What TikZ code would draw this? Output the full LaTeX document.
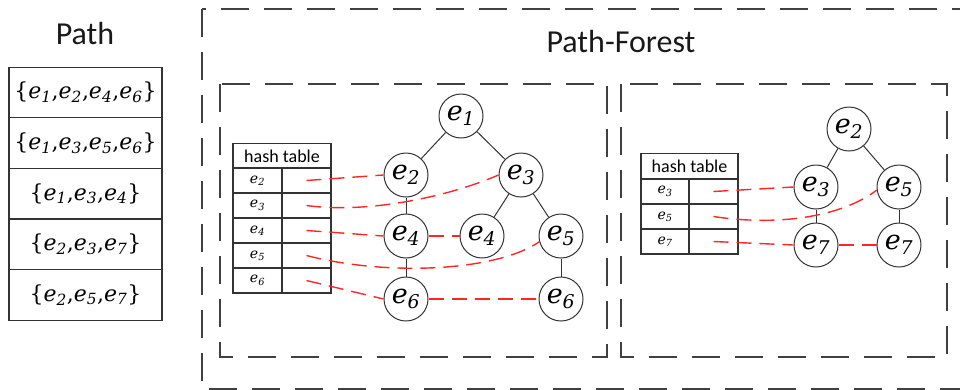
\RequirePackage{fix-cm}
\documentclass[tikz,border=0pt]{standalone}
\usepackage{fontspec}
\setmainfont{Carlito}
\newfontfamily\efont{DejaVu Serif}
% italic element name with a numeric index
\newcommand\ev[1]{{\efont\itshape e}\textsubscript{\efont\itshape #1}}
\newcommand\eset[1]{{\efont\{}#1{\efont\}}}
\newcommand\cm{{\efont,}}
\begin{document}
\begin{tikzpicture}[x=1pt,y=-1pt,
  frame/.style={draw=black!75, line width=1.8pt, dash pattern=on 28pt off 15pt},
  pathcell/.style={draw=black!80, line width=1.1pt, minimum width=153pt, minimum height=50.6pt,
    inner sep=0pt, font=\fontsize{22}{26}\selectfont},
  hashhead/.style={draw=black!80, line width=1.1pt, minimum height=24.5pt,
    inner sep=0pt, font=\fontsize{18}{20}\selectfont},
  hashcell/.style={draw=black!80, line width=1.1pt, minimum height=25pt,
    inner sep=0pt, font=\fontsize{14}{16}\selectfont},
  vertex/.style={circle, draw=black!80, line width=1pt, minimum size=44pt, inner sep=0pt,
    fill=white, font=\fontsize{27}{30}\selectfont},
  edge/.style={draw=black!80, line width=1pt},
  link/.style={draw=red!85, line width=1.4pt, dash pattern=on 15pt off 8pt},
  title/.style={font=\fontsize{32}{36}\selectfont, text=black!90}]
\useasboundingbox (0,0) rectangle (960,389);

% ---------- path list ----------
\node[title] (pathtitle) at (85,34) {Path};
\node[pathcell] (p1) at (85.5,92.5)  {\eset{\ev1\cm\ev2\cm\ev4\cm\ev6}};
\node[pathcell] (p2) at (85.5,143.1) {\eset{\ev1\cm\ev3\cm\ev5\cm\ev6}};
\node[pathcell] (p3) at (85.5,193.7) {\eset{\ev1\cm\ev3\cm\ev4}};
\node[pathcell] (p4) at (85.5,244.3) {\eset{\ev2\cm\ev3\cm\ev7}};
\node[pathcell] (p5) at (85.5,294.9) {\eset{\ev2\cm\ev5\cm\ev7}};

% ---------- frames ----------
\draw[frame] (202,9) rectangle (985,389);
\node[title] (foresttitle) at (621,42) {Path-Forest};
\draw[frame] (220,84) rectangle (607,357);
\draw[frame] (621,84) rectangle (947,357);

% ---------- first tree ----------
\node[hashhead, minimum width=98pt] (ha) at (282,156) {hash table};
\foreach \k/\y in {2/180.5,3/205.5,4/230.5,5/255.5,6/280.5}{
  \node[hashcell, minimum width=49pt] (ka\k) at (257.5,\y) {\ev{\k}};
  \node[hashcell, minimum width=49pt] (va\k) at (306.5,\y) {};
}

\node[vertex] (a1) at (461,116) {\ev1};
\node[vertex] (a2) at (406,175) {\ev2};
\node[vertex] (a3) at (521,175) {\ev3};
\node[vertex] (a4) at (406,236) {\ev4};
\node[vertex] (a4b) at (482,236) {\ev4};
\node[vertex] (a5) at (561,236) {\ev5};
\node[vertex] (a6) at (406,299) {\ev6};
\node[vertex] (a6b) at (561,299) {\ev6};

\draw[edge] (a1) -- (a2);
\draw[edge] (a1) -- (a3);
\draw[edge] (a2) -- (a4);
\draw[edge] (a4) -- (a6);
\draw[edge] (a3) -- (a4b);
\draw[edge] (a3) -- (a5);
\draw[edge] (a5) -- (a6b);

\draw[link] (a4) -- (a4b);
\draw[link] (a6) -- (a6b);
\draw[link] (va2.center) -- (a2.west);
\draw[link] (va3.center) .. controls (370,214) and (450,196) .. (a3.west);
\draw[link] (va4.center) -- (a4.west);
\draw[link] (va5.center) .. controls (385,276) and (495,272) .. (a5.195);
\draw[link] (va6.center) -- (a6.west);

% ---------- second tree ----------
\node[hashhead, minimum width=97pt] (hb) at (689.5,166) {hash table};
\foreach \k/\y in {3/191.5,5/216.5,7/241.5}{
  \node[hashcell, minimum width=48pt] (kb\k) at (665,\y) {\ev{\k}};
  \node[hashcell, minimum width=49pt] (vb\k) at (713.5,\y) {};
}

\node[vertex] (b2) at (849,129) {\ev2};
\node[vertex] (b3) at (816,187) {\ev3};
\node[vertex] (b5) at (899,187) {\ev5};
\node[vertex] (b7) at (816,245) {\ev7};
\node[vertex] (b7b) at (899,245) {\ev7};

\draw[edge] (b2) -- (b3);
\draw[edge] (b2) -- (b5);
\draw[edge] (b3) -- (b7);
\draw[edge] (b5) -- (b7b);

\draw[link] (b7) -- (b7b);
\draw[link] (vb3.center) -- (b3.west);
\draw[link] (vb5.center) .. controls (775,226) and (840,218) .. (b5.188);
\draw[link] (vb7.center) -- (b7.west);
\end{tikzpicture}
\end{document}
